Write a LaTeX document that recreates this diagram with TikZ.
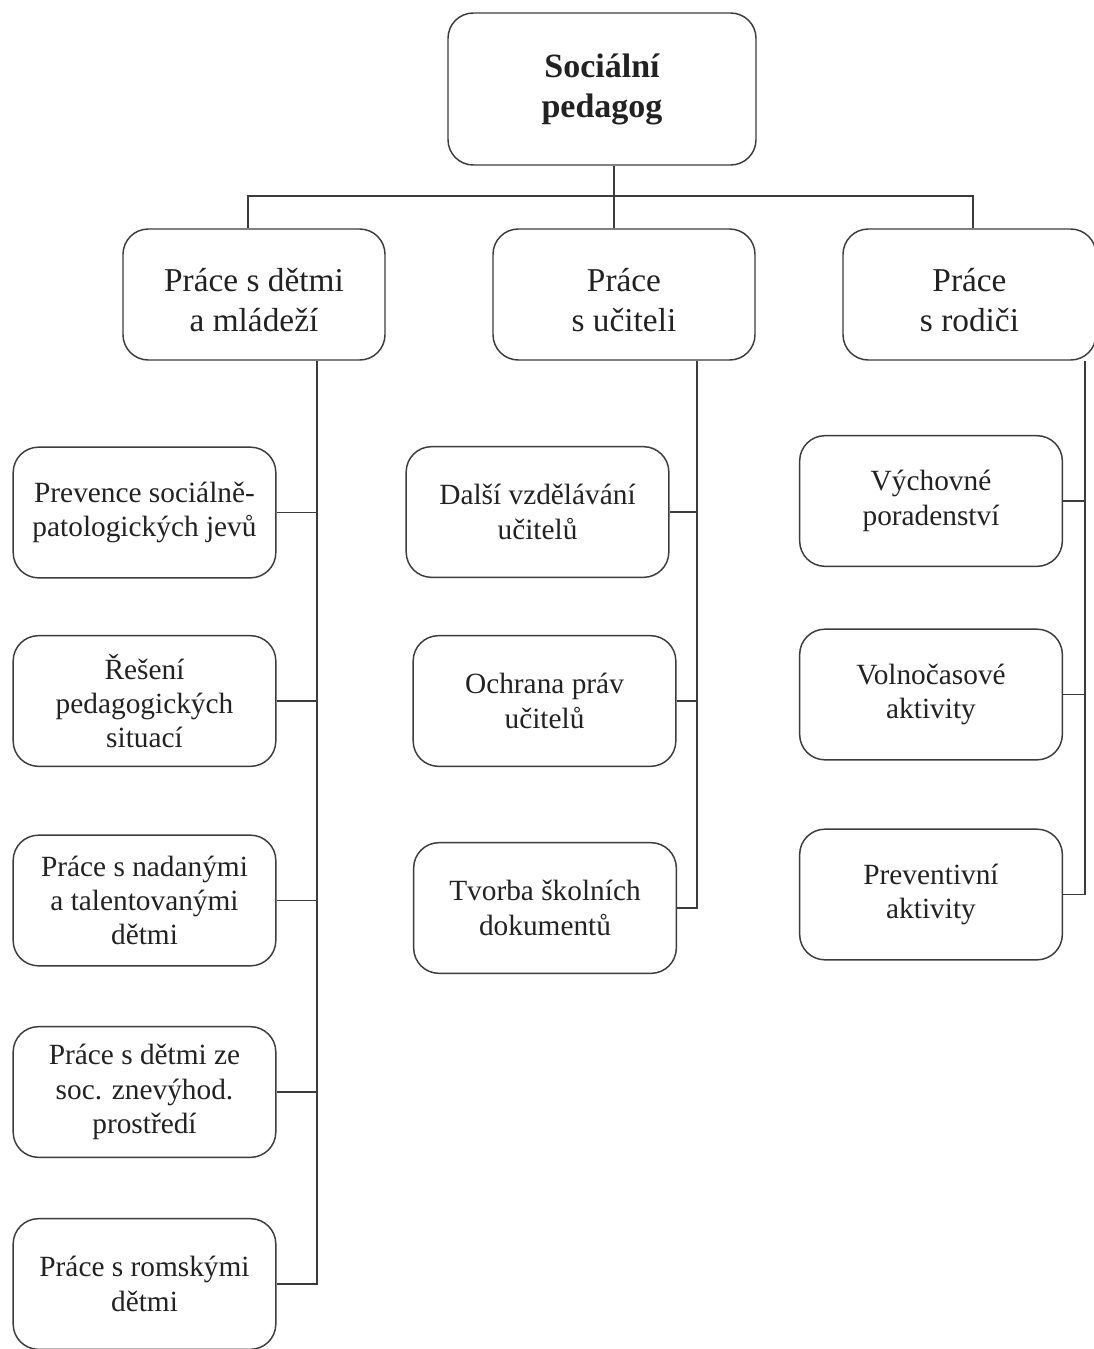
\documentclass[tikz,border=0pt]{standalone}
\usepackage{fontspec}
\setmainfont{Liberation Serif}
\usetikzlibrary{calc}
\definecolor{linec}{HTML}{3C3C3C}
\definecolor{textc}{HTML}{222222}
\newcommand{\lvlstrut}{\rule{0pt}{26pt}}
\tikzset{
  basebox/.style={draw=linec, line width=1.1pt, rounded corners=19pt, align=center, inner sep=0pt, text=textc},
  topbox/.style={basebox, minimum width=231pt, minimum height=114pt, font=\fontsize{25.5}{30}\selectfont\bfseries},
  midbox/.style={basebox, minimum width=196.5pt, minimum height=98.25pt, font=\fontsize{25}{30}\selectfont},
  childbox/.style={basebox, minimum width=197pt, minimum height=98pt, font=\fontsize{22}{25.8}\selectfont},
  conn/.style={draw=linec, line width=1.2pt}
}
\begin{document}
\begin{tikzpicture}[x=0.75pt,y=-0.75pt]
\useasboundingbox (0,0) rectangle (1094,1349);
\clip (0,0) rectangle (1094,1349);
\fill[white] (0,0) rectangle (1094,1349);

% top
\node[topbox] (top) at (602,89) {Sociální\\pedagog};
% level 2
\node[midbox] (A) at (254,294.5) {\lvlstrut Práce s dětmi\\a mládeží};
\node[midbox] (B) at (624,294.5) {\lvlstrut Práce\\s učiteli};
\node[midbox, minimum width=189.75pt] (C) at (969.5,294.5) {\lvlstrut Práce\\s rodiči};

% left column
\node[childbox] (a1) at (144.5,512.5) {Prevence sociálně-\\patologických jevů};
\node[childbox] (a2) at (144.5,701) {Řešení\\pedagogických\\situací};
\node[childbox] (a3) at (144.5,900.5) {Práce s nadanými\\a talentovanými\\dětmi};
\node[childbox] (a4) at (144.5,1092) {Práce s dětmi ze\\soc. znevýhod.\\prostředí};
\node[childbox] (a5) at (144.5,1284) {Práce s romskými\\dětmi};

% middle column
\node[childbox] (b1) at (537.5,512) {Další vzdělávání\\učitelů};
\node[childbox] (b2) at (544.5,701) {Ochrana práv\\učitelů};
\node[childbox] (b3) at (545,908) {Tvorba školních\\dokumentů};

% right column
\node[childbox] (c1) at (931,501) {Výchovné\\poradenství};
\node[childbox] (c2) at (931,694.5) {Volnočasové\\aktivity};
\node[childbox] (c3) at (931,894.5) {Preventivní\\aktivity};

% top connectors
\coordinate (bar) at (0,196);
\coordinate (topS) at ($(top.south)+(12,0)$);
\coordinate (AN) at ($(A.north)+(-6,0)$);
\coordinate (BN) at ($(B.north)+(-10,0)$);
\coordinate (CN) at ($(C.north)+(3.5,0)$);
\draw[conn] (topS) -- (topS |- bar);
\draw[conn] (AN) -- (AN |- bar) -- (CN |- bar) -- (CN);
\draw[conn] (BN |- bar) -- (BN);

% branch verticals
\coordinate (AS) at ($(A.south)+(63,0)$);
\coordinate (BS) at ($(B.south)+(73,0)$);
\coordinate (CS) at ($(C.south)+(115.5,0)$);
\draw[conn] (AS) |- (a5.east);
\foreach \n in {a1,a2,a3,a4} \draw[conn] (\n.east) -- (\n.east -| AS);
\draw[conn] (BS) |- (b3.east);
\foreach \n in {b1,b2} \draw[conn] (\n.east) -- (\n.east -| BS);
\draw[conn] (CS) |- (c3.east);
\foreach \n in {c1,c2} \draw[conn] (\n.east) -- (\n.east -| CS);
\end{tikzpicture}
\end{document}
